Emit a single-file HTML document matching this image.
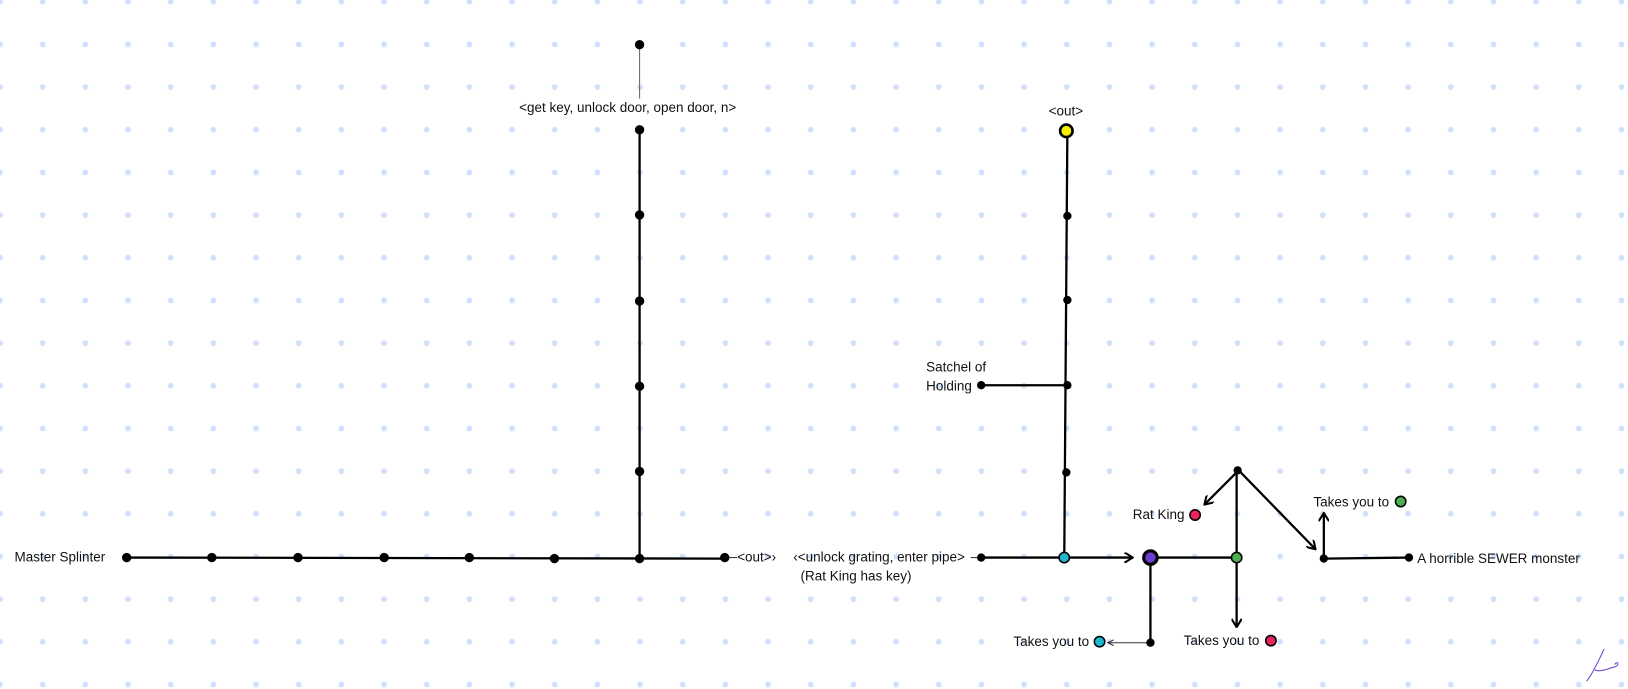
<!DOCTYPE html>
<html><head><style>
html,body{margin:0;padding:0;background:#fff;}
svg{display:block;}
text{font-family:"Liberation Sans",sans-serif;font-size:13px;fill:#111;}
</style></head><body>
<svg width="1628" height="689" viewBox="0 0 1628 689" xmlns="http://www.w3.org/2000/svg">
<defs>
<pattern id="g" x="-0.3" y="-19.5" width="42.67" height="42.67" patternUnits="userSpaceOnUse">
<circle cx="0.3" cy="21.3" r="2.9" fill="#cfe1fb"/><circle cx="42.97" cy="21.3" r="2.9" fill="#cfe1fb"/>
</pattern>
<marker id="a" viewBox="0 0 10 10" refX="9" refY="5" markerWidth="10" markerHeight="10" markerUnits="userSpaceOnUse" orient="auto"><path d="M1,0 L9,5 L1,10" fill="none" stroke="#000" stroke-width="2"/></marker>
<marker id="a2" viewBox="0 0 10 10" refX="9" refY="5" markerWidth="7" markerHeight="7" markerUnits="userSpaceOnUse" orient="auto"><path d="M1,1 L9,5 L1,9" fill="none" stroke="#333" stroke-width="1.5"/></marker>
</defs>
<rect width="1628" height="689" fill="url(#g)"/>
<g transform="scale(1.0383)">
<g stroke="#000" stroke-width="2.2" fill="none">
<line x1="122" y1="537" x2="698" y2="538"/>
<line x1="616" y1="538" x2="616" y2="125"/>
<line x1="945" y1="537" x2="1025" y2="537"/>
<line x1="1025" y1="537" x2="1028" y2="125"/>
<line x1="945" y1="371" x2="1027" y2="371"/>
<line x1="1025" y1="537" x2="1091" y2="537" marker-end="url(#a)"/>
<line x1="1108" y1="537" x2="1191" y2="537"/>
<line x1="1108" y1="537" x2="1108" y2="619"/>
<line x1="1191" y1="537" x2="1191" y2="453"/>
<line x1="1191" y1="537" x2="1191" y2="604" marker-end="url(#a)"/>
<line x1="1193" y1="453" x2="1160" y2="486" marker-end="url(#a)"/>
<line x1="1193" y1="453" x2="1267" y2="529" marker-end="url(#a)"/>
<line x1="1275" y1="538" x2="1357" y2="537"/>
<line x1="1275" y1="538" x2="1275" y2="494" marker-end="url(#a)"/>
</g>
<line x1="616" y1="43" x2="616" y2="95" stroke="#666" stroke-width="1"/>
<line x1="1108" y1="619" x2="1067" y2="619" stroke="#333" stroke-width="1" marker-end="url(#a2)"/>
<line x1="698" y1="537" x2="710" y2="537" stroke="#333" stroke-width="1"/>
<line x1="935" y1="537" x2="945" y2="537" stroke="#333" stroke-width="1"/>
<g fill="#000">
<circle cx="122" cy="537" r="4.5"/><circle cx="204" cy="537" r="4.5"/><circle cx="287" cy="537" r="4.5"/><circle cx="370" cy="537" r="4.5"/><circle cx="452" cy="537" r="4.5"/><circle cx="534" cy="538" r="4.5"/><circle cx="616" cy="538" r="4.5"/><circle cx="698" cy="537" r="4.5"/>
<circle cx="616" cy="43" r="4.5"/><circle cx="616" cy="125" r="4.5"/><circle cx="616" cy="207" r="4.5"/><circle cx="616" cy="290" r="4.5"/><circle cx="616" cy="372" r="4.5"/><circle cx="616" cy="454" r="4.5"/>
<circle cx="1028" cy="208" r="4"/><circle cx="1028" cy="289" r="4"/><circle cx="1028" cy="371" r="4"/><circle cx="1027" cy="455" r="4"/><circle cx="945" cy="371" r="4"/><circle cx="945" cy="537" r="4"/>
<circle cx="1108" cy="619" r="4"/><circle cx="1192" cy="453" r="4"/><circle cx="1275" cy="538" r="4"/><circle cx="1357" cy="537" r="4"/>
</g>
<circle cx="1027" cy="126" r="6" fill="#f5f000" stroke="#000" stroke-width="2.5"/>
<circle cx="1025" cy="537" r="5" fill="#20b7d0" stroke="#000" stroke-width="1.5"/>
<circle cx="1108" cy="537" r="6.5" fill="#6a3fcf" stroke="#000" stroke-width="3"/>
<circle cx="1191" cy="537" r="5" fill="#4caf50" stroke="#000" stroke-width="1.5"/>
<circle cx="1151" cy="496" r="5" fill="#e8245a" stroke="#000" stroke-width="1.5"/>
<circle cx="1224" cy="617" r="5" fill="#e8245a" stroke="#000" stroke-width="1.5"/>
<circle cx="1059" cy="618" r="5" fill="#20b7d0" stroke="#000" stroke-width="1.5"/>
<circle cx="1349" cy="483" r="5" fill="#4caf50" stroke="#000" stroke-width="1.5"/>
<text x="14" y="541">Master Splinter</text>
<text x="500" y="108">&lt;get key, unlock door, open door, n&gt;</text>
<text x="710" y="541">&lt;out&gt;›</text>
<text x="764" y="541">‹&lt;unlock grating, enter pipe&gt;</text>
<text x="771" y="559">(Rat King has key)</text>
<text x="1010" y="111">&lt;out&gt;</text>
<text x="892" y="358">Satchel of</text>
<text x="892" y="376">Holding</text>
<text x="1091" y="500">Rat King</text>
<text x="1265" y="488">Takes you to</text>
<text x="1365" y="542">A horrible SEWER monster</text>
<text x="976" y="622">Takes you to</text>
<text x="1140" y="621">Takes you to</text>
<path d="M1545,625 C1538,640 1532,652 1528,656 M1536,645 C1540,648 1548,644 1556,642 C1560,640 1558,636 1555,640" stroke="#6a3fcf" stroke-width="1" fill="none"/>
</g>
</svg>
</body></html>
